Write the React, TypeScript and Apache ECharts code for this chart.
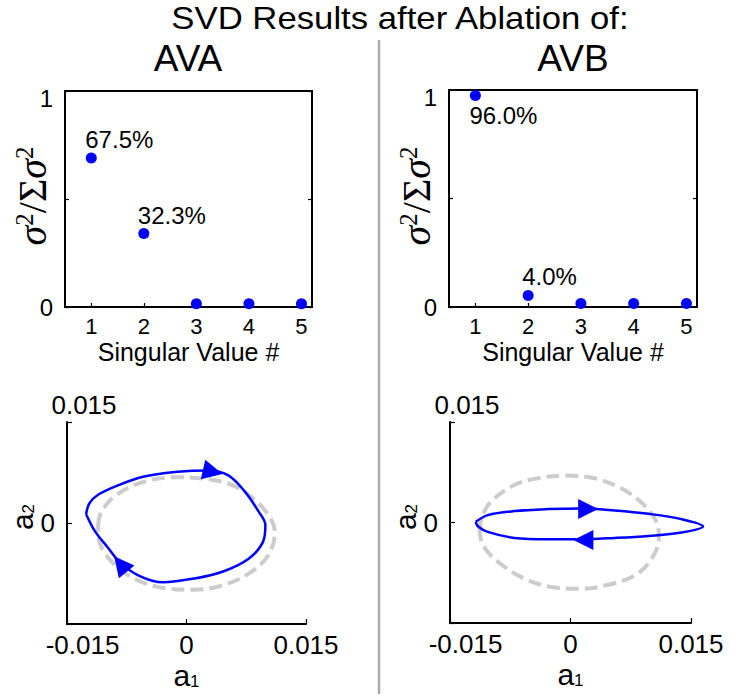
import React, { useEffect, useRef } from 'react';
import * as echarts from 'echarts';

// ---------- data ----------
const titleText = 'SVD Results after Ablation of:';
const panelNames = ['AVA', 'AVB'];

const svIndex = [1, 2, 3, 4, 5];
const avaShare = [0.69, 0.34, 0.015, 0.015, 0.015];
const avbShare = [0.975, 0.053, 0.016, 0.016, 0.016];
const avaLabels = ['67.5%', '32.3%', '', '', ''];
const avbLabels = ['96.0%', '4.0%', '', '', ''];
const avaLabelSide = ['top', 'top', 'top', 'top', 'top'];
const avbLabelSide = ['bottom', 'top', 'top', 'top', 'top'];

const shareTicks = [0, 0.5, 1];
const phaseTicks = [-0.015, 0, 0.015];

// blue loop (actual) and gray dashed loop (reference), [a1, a2]
const avaLoop = [
  [-0.0126, 0.0013], [-0.0122, 0.0029], [-0.0111, 0.0042], [-0.0086, 0.0056],
  [-0.0053, 0.0069], [-0.0011, 0.0076], [0.0027, 0.0078], [0.0052, 0.0071],
  [0.0073, 0.0047], [0.009, 0.0018], [0.0099, -0.0003], [0.0096, -0.0028],
  [0.0078, -0.0053], [0.0046, -0.0072], [0.0012, -0.0082], [-0.003, -0.0088],
  [-0.006, -0.0078], [-0.0084, -0.0058], [-0.0099, -0.0036], [-0.0115, -0.0012],
  [-0.0126, 0.0013],
];
const avaRef = [
  [-0.0111, -0.0004], [-0.0107, 0.0016], [-0.009, 0.004], [-0.0057, 0.006],
  [-0.0015, 0.0068], [0.0027, 0.0065], [0.006, 0.0055], [0.0088, 0.0032],
  [0.0106, 0.0006], [0.0111, -0.0014], [0.0102, -0.0049], [0.0077, -0.0076],
  [0.0044, -0.0093], [0.001, -0.0099], [-0.0032, -0.0096], [-0.0065, -0.0083],
  [-0.0093, -0.0059], [-0.0109, -0.0029], [-0.0111, -0.0004],
];
const avaArrows = [[0.0033, 0.0076], [-0.0083, -0.0061]];
const avaArrowDeg = [-103, 39];

const avbLoop = [
  [-0.0118, 0.0001], [-0.0103, 0.0011], [-0.007, 0.0017], [-0.0028, 0.002],
  [0.0013, 0.0021], [0.0055, 0.0018], [0.0097, 0.0013], [0.0138, 0.0005],
  [0.0165, -0.0006], [0.0138, -0.0015], [0.0097, -0.002], [0.0055, -0.0023],
  [0.0013, -0.0025], [-0.0028, -0.0025], [-0.007, -0.0023], [-0.0103, -0.0014],
  [-0.0115, -0.0006], [-0.0118, 0.0001],
];
const avbRef = [
  [-0.0113, -0.0014], [-0.0111, 0.0006], [-0.0099, 0.0031], [-0.007, 0.0056],
  [-0.0041, 0.0066], [-0.0008, 0.007], [0.003, 0.0066], [0.0063, 0.0051],
  [0.009, 0.0028], [0.0107, 0.0001], [0.011, -0.0024], [0.01, -0.0056],
  [0.008, -0.0079], [0.0047, -0.0093], [0.0013, -0.0099], [-0.002, -0.0097],
  [-0.0057, -0.0084], [-0.009, -0.0059], [-0.0109, -0.0034], [-0.0113, -0.0014],
];
const avbArrows = [[0.0022, 0.002], [0.0016, -0.0026]];
const avbArrowDeg = [-90, 90];

// plotting range of the hidden data axes (wider than the drawn axis so the
// AVB loop can run past the 0.015 end, as in the original)
const dataXMax = 0.0175;

// ---------- styling ----------
const FONT = '"Liberation Sans", Arial, sans-serif';
const SERIF = '"Liberation Serif", "DejaVu Serif", serif';
const BLUE = '#0000ff';
const GRAY = '#cccccc';

const topGrids = [
  { left: 65, top: 91, width: 247, height: 216 },
  { left: 449, top: 90, width: 248, height: 217 },
];
const botGrids = [
  { left: 67, top: 422, width: 239, height: 202 },
  { left: 450, top: 422, width: 241, height: 201 },
];

function buildOption() {
  const grid: any[] = [];
  const xAxis: any[] = [];
  const yAxis: any[] = [];
  const series: any[] = [];

  const shares = [avaShare, avbShare];
  const labels = [avaLabels, avbLabels];
  const sides = [avaLabelSide, avbLabelSide];

  topGrids.forEach((g, i) => {
    grid.push({ ...g, show: true, borderColor: '#000', borderWidth: 2, backgroundColor: 'transparent' });
    xAxis.push({
      gridIndex: i, type: 'value', min: 0.5, max: 5.2,
      axisLine: { show: false },
      axisTick: { show: true, inside: true, length: 4, customValues: svIndex, lineStyle: { color: '#000', width: 1.2 } },
      axisLabel: { customValues: svIndex, fontSize: 22, color: '#000', fontFamily: FONT, margin: 8 },
      splitLine: { show: false },
      name: 'Singular Value #', nameLocation: 'middle', nameGap: 32,
      nameTextStyle: { fontSize: 25, color: '#000', fontFamily: FONT },
    });
    yAxis.push({
      gridIndex: i, type: 'value', min: 0, max: 1, interval: 0.5,
      axisLine: { show: false },
      axisTick: { show: true, inside: true, length: 4, lineStyle: { color: '#000', width: 1.2 } },
      axisLabel: {
        formatter: (v: number) => (v === shareTicks[1] ? '' : v === shareTicks[2] ? '{t|1}' : String(v)),
        fontSize: 24, color: '#000', fontFamily: FONT, margin: 12,
        rich: { t: { fontSize: 24, color: '#000', fontFamily: FONT, padding: [14, 0, 0, 0] } },
      },
      splitLine: { show: false },
    });
    yAxis.push({
      gridIndex: i, type: 'value', min: 0, max: 1, interval: 0.5, position: 'right',
      axisLine: { show: false },
      axisTick: { show: true, inside: true, length: 4, lineStyle: { color: '#000', width: 1.2 } },
      axisLabel: { show: false }, splitLine: { show: false },
    });
  });

  botGrids.forEach((g, i) => {
    grid.push({ ...g, show: false });
    xAxis.push({
      gridIndex: 2 + i, type: 'value', min: phaseTicks[0], max: phaseTicks[2], interval: 0.015,
      axisLine: { show: true, onZero: false, lineStyle: { color: '#000', width: 2 } },
      axisTick: { show: true, inside: true, length: 5, lineStyle: { color: '#000', width: 1.2 } },
      axisLabel: {
        formatter: (v: number) => (v < -0.01 ? '{n|-0.015}' : v > 0.01 ? '0.015' : '0'),
        fontSize: 26, color: '#000', fontFamily: FONT, margin: 8,
        rich: { n: { fontSize: 26, color: '#000', fontFamily: FONT, padding: [0, 0, 0, 31] } },
      },
      splitLine: { show: false },
      name: '{a|a}{b|1}', nameLocation: 'middle', nameGap: 36,
      nameTextStyle: {
        rich: {
          a: { fontSize: 30, fontFamily: FONT, color: '#000', lineHeight: 30 },
          b: { fontSize: 17, fontFamily: FONT, color: '#000', lineHeight: 12, verticalAlign: 'bottom' },
        },
      },
    });
    yAxis.push({
      gridIndex: 2 + i, type: 'value', min: phaseTicks[0], max: phaseTicks[2], interval: 0.015,
      axisLine: { show: true, onZero: false, lineStyle: { color: '#000', width: 2 } },
      axisTick: { show: true, inside: true, length: 5, lineStyle: { color: '#000', width: 1.2 } },
      axisLabel: {
        formatter: (v: number) => (Math.abs(v) < 1e-9 ? '0' : ''),
        fontSize: 26, color: '#000', fontFamily: FONT, margin: 12,
      },
      splitLine: { show: false },
      name: '0.015', nameLocation: 'end', nameGap: 4,
      nameTextStyle: { fontSize: 26, color: '#000', fontFamily: FONT, padding: [0, 0, 0, 34] },
    });
  });

  // hidden data grids for the phase plots (same scale, wider x range)
  botGrids.forEach((g, i) => {
    const span = phaseTicks[2] - phaseTicks[0];
    grid.push({ ...g, width: (g.width * (dataXMax - phaseTicks[0])) / span, show: false });
    xAxis.push({
      gridIndex: 4 + i, type: 'value', min: phaseTicks[0], max: dataXMax, show: false,
      axisLine: { onZero: false }, splitLine: { show: false },
    });
    yAxis.push({
      gridIndex: 4 + i, type: 'value', min: phaseTicks[0], max: phaseTicks[2], show: false,
      axisLine: { onZero: false }, splitLine: { show: false },
    });
  });

  // top scatter series
  [0, 1].forEach((i) => {
    series.push({
      type: 'scatter', xAxisIndex: i, yAxisIndex: i * 2, clip: false,
      symbol: 'circle', symbolSize: 11, itemStyle: { color: BLUE, opacity: 1 },
      data: svIndex.map((x, k) => ({
        value: [x, shares[i][k]],
        label: {
          show: labels[i][k] !== '',
          formatter: labels[i][k],
          position: sides[i][k],
          align: 'left',
          offset: sides[i][k] === 'top' ? [-6, 2] : [-6, 0],
          distance: 3,
          fontSize: 24, color: '#000', fontFamily: FONT, opacity: 1,
        },
      })),
    });
  });

  const loops = [avaLoop, avbLoop];
  const refs = [avaRef, avbRef];
  const arrows = [avaArrows, avbArrows];
  const arrowDeg = [avaArrowDeg, avbArrowDeg];
  [0, 1].forEach((i) => {
    const xi = 4 + i;
    const yi = 6 + i;
    series.push({
      type: 'line', xAxisIndex: xi, yAxisIndex: yi, clip: false,
      data: refs[i], showSymbol: false, symbol: 'none', smooth: 0.35,
      lineStyle: { color: GRAY, width: 4, type: [13, 6] },
    });
    series.push({
      type: 'line', xAxisIndex: xi, yAxisIndex: yi, clip: false,
      data: loops[i], showSymbol: false, symbol: 'none', smooth: 0.35,
      lineStyle: { color: BLUE, width: 2.5 },
    });
    series.push({
      type: 'scatter', xAxisIndex: xi, yAxisIndex: yi, clip: false, z: 5,
      symbol: 'triangle', symbolSize: [20, 20], itemStyle: { color: BLUE, opacity: 1 },
      data: arrows[i].map((p, k) => ({ value: p, symbolRotate: arrowDeg[i][k] })),
    });
  });

  const graphic: any[] = [
    {
      type: 'text', x: 400, y: 18, scaleX: 1.12,
      style: { text: titleText, fontSize: 31, fontFamily: FONT, fill: '#000', align: 'center', verticalAlign: 'middle' },
    },
    {
      type: 'text', x: 188, y: 58,
      style: { text: panelNames[0], fontSize: 37, fontFamily: FONT, fill: '#000', align: 'center', verticalAlign: 'middle' },
    },
    {
      type: 'text', x: 573, y: 58,
      style: { text: panelNames[1], fontSize: 37, fontFamily: FONT, fill: '#000', align: 'center', verticalAlign: 'middle' },
    },
    {
      type: 'line', shape: { x1: 379, y1: 40, x2: 379, y2: 694 },
      style: { stroke: '#aaaaaa', lineWidth: 2.5 },
    },
  ];
  // sigma^2 / Sigma sigma^2 axis titles of the top panels
  [32, 416].forEach((x) => {
    graphic.push({
      type: 'text', x, y: 196, rotation: Math.PI / 2,
      style: {
        text: '{s|σ}{p|2}{u|/Σ}{s|σ}{p|2}', align: 'center', verticalAlign: 'middle',
        rich: {
          s: { fontFamily: SERIF, fontStyle: 'italic', fontSize: 40, fill: '#000', lineHeight: 40 },
          u: { fontFamily: SERIF, fontSize: 40, fill: '#000', lineHeight: 40 },
          p: { fontFamily: SERIF, fontSize: 25, fill: '#000', lineHeight: 25, verticalAlign: 'top' },
        },
      },
    });
  });
  // a2 axis titles of the bottom panels
  [22, 405].forEach((x) => {
    graphic.push({
      type: 'text', x, y: 517, rotation: Math.PI / 2,
      style: {
        text: '{a|a}{b|2}', align: 'center', verticalAlign: 'middle',
        rich: {
          a: { fontSize: 30, fontFamily: FONT, fill: '#000', lineHeight: 30 },
          b: { fontSize: 17, fontFamily: FONT, fill: '#000', lineHeight: 12, verticalAlign: 'bottom' },
        },
      },
    });
  });

  return { animation: false, backgroundColor: '#fff', grid, xAxis, yAxis, series, graphic };
}

export default function App() {
  const ref = useRef<HTMLDivElement>(null);
  useEffect(() => {
    if (!ref.current) return;
    const chart = echarts.init(ref.current, undefined, { renderer: 'svg' });
    chart.setOption(buildOption() as any);
    return () => chart.dispose();
  }, []);
  return (
    <div
      ref={ref}
      style={{ position: 'fixed', left: 0, top: 0, width: 747, height: 696, background: '#fff' }}
    />
  );
}
